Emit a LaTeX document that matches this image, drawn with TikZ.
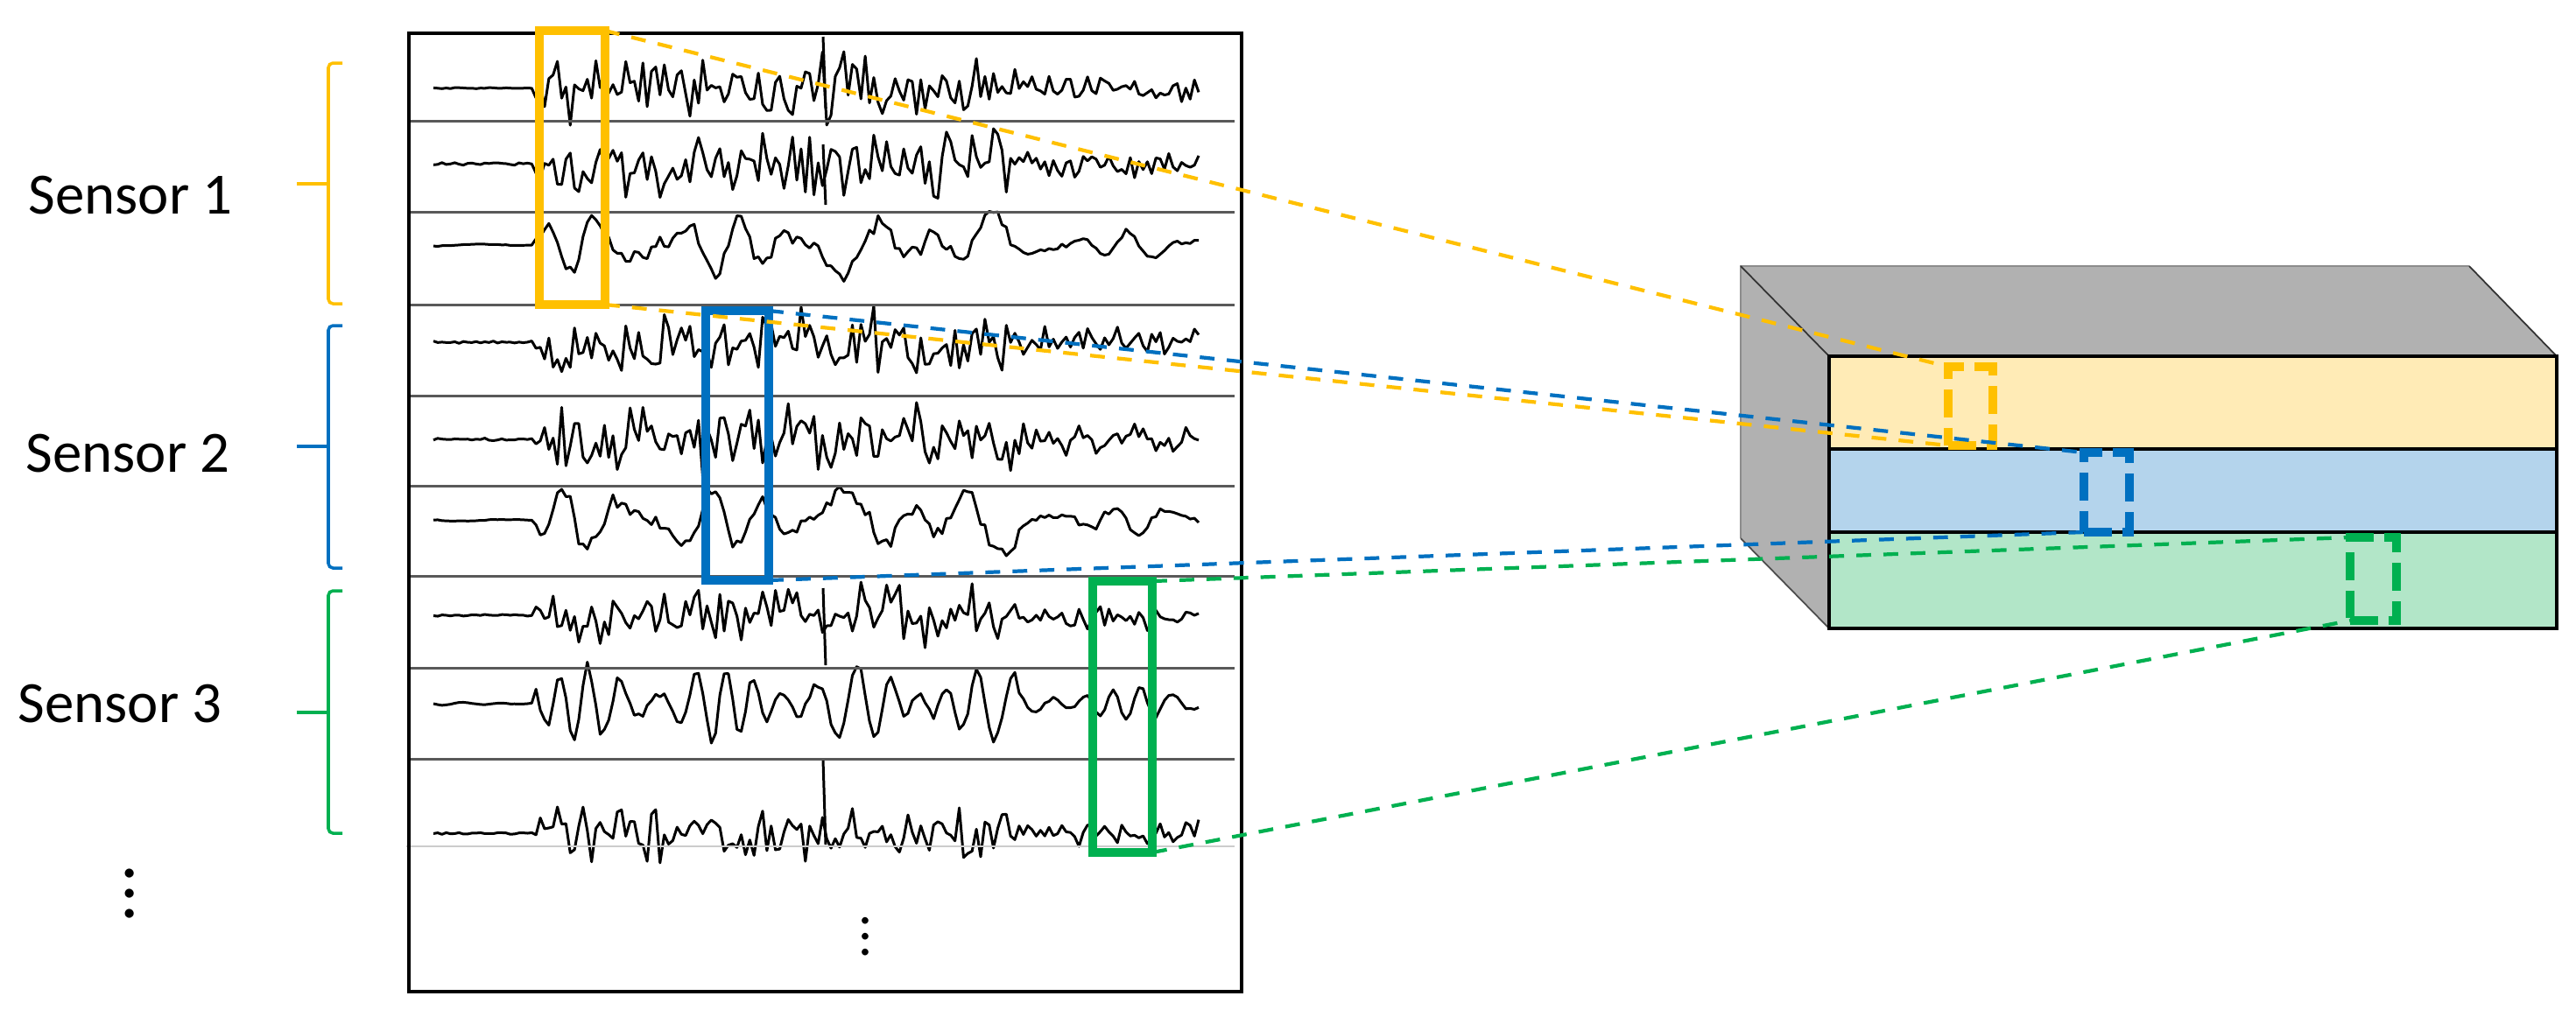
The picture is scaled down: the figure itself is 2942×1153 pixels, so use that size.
\documentclass[tikz,border=0pt]{standalone}
\usepackage{fontspec}
\setmainfont{Carlito}
\usetikzlibrary{fit}
\definecolor{Gold}{HTML}{FFC000}
\definecolor{Azure}{HTML}{0070C0}
\definecolor{Emerald}{HTML}{00B050}
\definecolor{GoldPale}{HTML}{FFEBB6}
\definecolor{AzurePale}{HTML}{B4D4EC}
\definecolor{EmeraldPale}{HTML}{B2E6C8}
\definecolor{Slab}{HTML}{B1B1B1}

\begin{document}
\begin{tikzpicture}[x=0.01cm,y=-0.01cm,
  declare function={env(\u)=(\u<610)*0.04+(\u>=610)*(\u<1160)+(\u>=1160)*0.45;
    osc(\u,\f)=sin(\f*\u+70*sin(1.7*\u))*(0.65+0.35*sin(2.3*\u));},
  wave/.style={line width=0.85pt,line join=round},
  sep/.style={draw=black!65,line width=0.85pt},
  sensor/.style={font=\fontsize{19}{23}\selectfont},
  brace/.style={line width=1pt,rounded corners=1.5pt},
  window/.style={line width=2.8pt,inner sep=0pt,outer sep=0pt},
  cell/.style={line width=3pt,inner sep=0pt,outer sep=0pt,dash pattern=on 9pt off 3.4pt},
  link/.style={line width=1.2pt,dash pattern=on 4.8pt off 4pt}]
  \useasboundingbox (0,0) rectangle (2942,1153);
  % traces
  \foreach \base/\amp/\w/\f/\s in {101/44/0/0/11, 187/46/0/0/23, 280/48/0.75/4.8/37,
      391/44/0/0/41, 502/46/0/0/53, 594/48/0.75/4.6/67, 703/42/0/0/71,
      804/50/0.85/9.7/83, 952/38/0/0/97} {
    \pgfmathsetseed{\s}
    \draw[wave] plot[domain=495:1369,samples=180]
      (\x,{\base-env(\x)*\amp*(\w*osc(\x,\f)+(1-\w)*rand*(0.3+0.7*rnd))});
  }
  \foreach \a/\b in {42/124, 165/234, 672/760, 868/965}
    \draw[wave] (940,\a) -- (943,\b);
  \foreach \y in {138,242,348,452,555,658,763,867}
    \draw[sep] (467,\y) -- (1410,\y);
  \draw[black!20,line width=0.6pt] (464,967) -- (1410,967);
  \draw[line width=0.9pt] (467,38) rectangle (1418,1133);
  \node[inner sep=0pt,align=center,font=\fontsize{18}{5.1}\selectfont] (morerows) at (988,1070) {.\\.\\.};

  \node[fit={(616,35) (691,348)},window,draw=Gold] (win1) {};
  \node[fit={(806,355) (878,663)},window,draw=Azure] (win2) {};
  \node[fit={(1248,664) (1316,974)},window,draw=Emerald] (win3) {};

  % sensors
  \node[sensor] (s1) at (149,223) {Sensor 1};
  \node[sensor] (s2) at (146,518) {Sensor 2};
  \node[sensor] (s3) at (137,804) {Sensor 3};
  \node[inner sep=0pt,align=center,font=\fontsize{24}{6.5}\selectfont] (moresensors) at (148,1021) {.\\.\\.};
  \draw[brace,Gold] (391,72) -- (375,72) -- (375,347) -- (391,347);
  \draw[brace,Gold] (339,210) -- (375,210);
  \draw[brace,Azure] (391,372) -- (375,372) -- (375,649) -- (391,649);
  \draw[brace,Azure] (339,510) -- (375,510);
  \draw[brace,Emerald] (391,675) -- (375,675) -- (375,952) -- (391,952);
  \draw[brace,Emerald] (339,814) -- (375,814);

  % block
  \fill[Slab] (1988,304) -- (2820,304) -- (2920,407) -- (2089,407) -- cycle;
  \fill[Slab] (1988,304) -- (2089,407) -- (2089,718) -- (1988,615) -- cycle;
  \draw[black!45,line width=0.8pt] (1988,615) -- (1988,304) -- (2820,304);
  \draw[black!80,line width=0.5pt] (2820,304) -- (2920,407);
  \draw[black!80,line width=0.5pt] (1988,304) -- (2089,407);
  \draw[black!70,line width=0.5pt] (1988,615) -- (2089,718);
  \fill[GoldPale] (2089,407) rectangle (2920,513);
  \fill[AzurePale] (2089,513) rectangle (2920,608);
  \fill[EmeraldPale] (2089,608) rectangle (2920,718);
  \draw[line width=1.2pt] (2089,513) -- (2920,513);
  \draw[line width=1.2pt] (2089,608) -- (2920,608);
  \draw[line width=1.4pt] (2089,407) rectangle (2920,718);

  \node[fit={(2225,419) (2276,509)},cell,draw=Gold] (cell1) {};
  \node[fit={(2380,517) (2432,608)},cell,draw=Azure] (cell2) {};
  \node[fit={(2684,614) (2737,709)},cell,draw=Emerald] (cell3) {};

  \draw[link,Gold] (win1.north east) -- (cell1.north west);
  \draw[link,Gold] (win1.south east) -- (cell1.south west);
  \draw[link,Azure] (win2.north east) -- (cell2.north west);
  \draw[link,Azure] (win2.south east) -- (cell2.south west);
  \draw[link,Emerald] (win3.north east) -- (cell3.north west);
  \draw[link,Emerald] (win3.south east) -- (cell3.south west);
\end{tikzpicture}
\end{document}
